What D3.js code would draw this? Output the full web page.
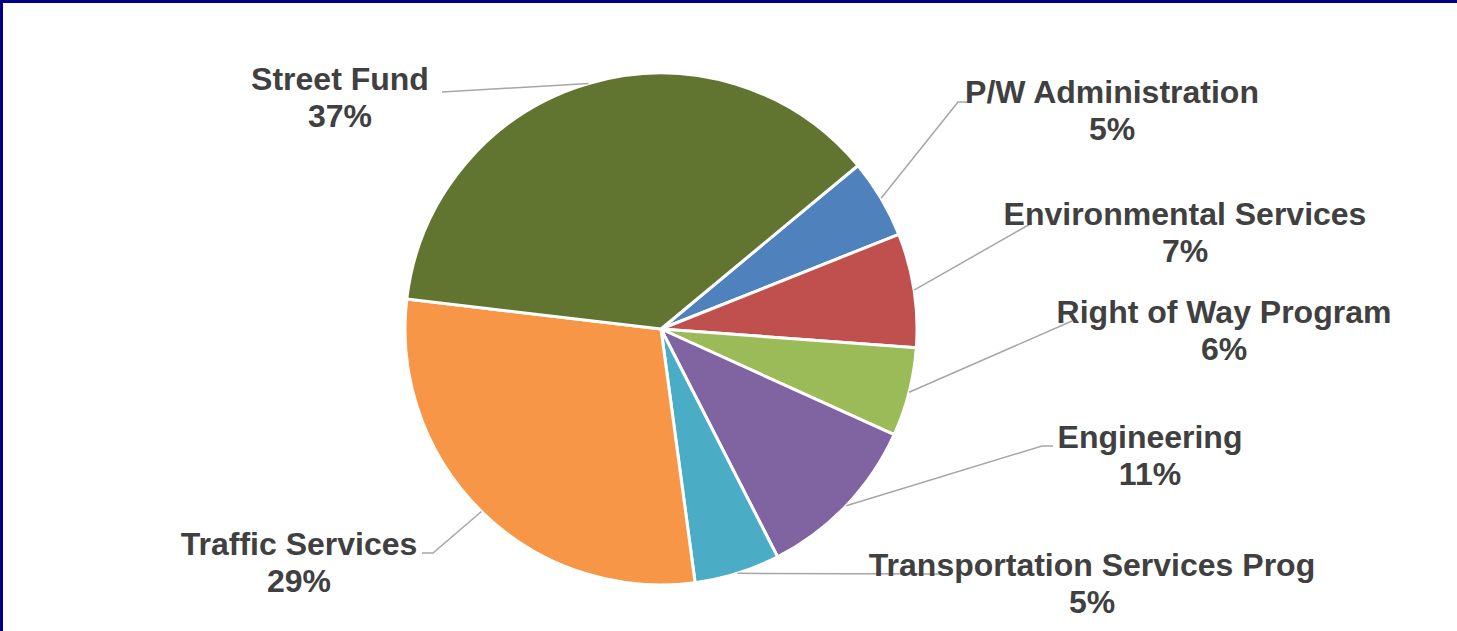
<!DOCTYPE html>
<html>
<head>
<meta charset="utf-8">
<script src="https://cdn.jsdelivr.net/npm/d3@7"></script>
<style>
  html, body { margin: 0; padding: 0; background: #fff; }
  svg { display: block; }
</style>
</head>
<body>
<svg id="chart" width="1457" height="631"></svg>
<script>
// slice data, clockwise from the first slice
var categories = ["P/W Administration", "Environmental Services", "Right of Way Program",
                  "Engineering", "Transportation Services Prog", "Traffic Services", "Street Fund"];
var values = [5.0, 7.2, 5.6, 10.7, 5.4, 29.0, 37.1];
var colors = ["#4f81bd", "#c0504d", "#9bbb59", "#8064a2", "#4bacc6", "#f79646", "#627530"];

// label placement (text centre x, first line y, leader end, optional elbow)
var labelLayout = [
  { x: 1112, y: 92,  end: [968, 102],  elbow: [958, 102] },
  { x: 1185, y: 214, end: [1032, 223] },
  { x: 1224, y: 312, end: [1072, 321] },
  { x: 1150, y: 437, end: [1053, 446], elbow: [1042, 446] },
  { x: 1092, y: 565, end: [940, 574] },
  { x: 299,  y: 544, end: [422, 553],  elbow: [433, 553] },
  { x: 340,  y: 79,  end: [442, 92] }
];

var svg = d3.select("#chart");
var cx = 661, cy = 329, radius = 256;
var startAngle = 50.3 * Math.PI / 180;

// frame (top and left edges only visible)
svg.append("rect").attr("x", 0).attr("y", 0).attr("width", 1457).attr("height", 3).attr("fill", "#000088");
svg.append("rect").attr("x", 0).attr("y", 0).attr("width", 3).attr("height", 631).attr("fill", "#000088");

var data = categories.map(function(c, i) { return { name: c, value: values[i], color: colors[i], layout: labelLayout[i] }; });
var total = d3.sum(values);

var pie = d3.pie()
  .value(d => d.value)
  .sort(null)
  .startAngle(startAngle)
  .endAngle(startAngle + 2 * Math.PI);

var arc = d3.arc().innerRadius(0).outerRadius(radius);

var g = svg.append("g").attr("transform", "translate(" + cx + "," + cy + ")");
var arcs = pie(data);

g.selectAll("path.slice")
  .data(arcs)
  .enter()
  .append("path")
  .attr("class", "slice")
  .attr("d", arc)
  .attr("fill", d => d.data.color)
  .attr("stroke", "#fff")
  .attr("stroke-width", 3)
  .attr("stroke-linejoin", "round");

// leader lines start on the rim at the slice mid-angle
var line = d3.line();
svg.selectAll("path.leader")
  .data(arcs)
  .enter()
  .append("path")
  .attr("class", "leader")
  .attr("d", function(d) {
    var a = (d.startAngle + d.endAngle) / 2;
    var pts = [[cx + radius * Math.sin(a), cy - radius * Math.cos(a)]];
    if (d.data.layout.elbow) pts.push(d.data.layout.elbow);
    pts.push(d.data.layout.end);
    return line(pts);
  })
  .attr("fill", "none")
  .attr("stroke", "#a6a6a6")
  .attr("stroke-width", 1.5);

var pct = d3.format(".0%");
var labels = svg.selectAll("text.label")
  .data(arcs)
  .enter()
  .append("text")
  .attr("class", "label")
  .attr("text-anchor", "middle")
  .attr("font-family", "'Liberation Sans', Arial, sans-serif")
  .attr("font-weight", "bold")
  .attr("font-size", 32)
  .attr("fill", "#404040");

labels.append("tspan")
  .attr("x", d => d.data.layout.x)
  .attr("y", d => d.data.layout.y)
  .attr("dominant-baseline", "central")
  .text(d => d.data.name);

labels.append("tspan")
  .attr("x", d => d.data.layout.x)
  .attr("y", d => d.data.layout.y + 37)
  .attr("dominant-baseline", "central")
  .text(d => pct(d.data.value / total));
</script>
</body>
</html>
